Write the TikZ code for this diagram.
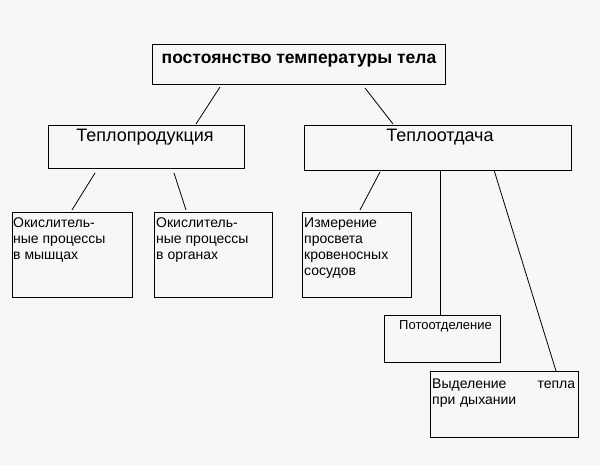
\documentclass[tikz,border=0pt]{standalone}
\usepackage{fontspec}
\setmainfont{Liberation Sans}
\begin{document}
\begin{tikzpicture}[x=1pt,y=-1pt,
  box/.style={draw,line width=0.9pt},
  ln/.style={line width=0.8pt},
  small/.style={anchor=north west,align=left,font=\fontsize{14}{16}\selectfont,inner sep=0pt}]
\useasboundingbox (0,0) rectangle (600,465);
\fill[gray!6] (0,0) rectangle (600,465);
\draw[box] (152,44) rectangle (445,84);
\node (top) at (299,61) {\fontsize{17.5}{19}\selectfont\bfseries постоянство температуры тела};
\draw[box] (48,125) rectangle (244,168);
\node (tp) at (145,137) {\fontsize{18}{20}\selectfont Теплопродукция};
\draw[box] (304,125) rectangle (571,170);
\node (to) at (440,137) {\fontsize{18}{20}\selectfont Теплоотдача};
\draw[box] (12,212) rectangle (132,297);
\node[small] (m) at (13,218) {Окислитель-\\ные процессы\\в мышцах};
\draw[box] (154,212) rectangle (272,297);
\node[small] (o) at (156,218) {Окислитель-\\ные процессы\\в органах};
\draw[box] (302,212) rectangle (411,297);
\node[small] (s) at (304,218) {Измерение\\просвета\\кровеносных\\сосудов};
\draw[box] (384,315) rectangle (500,362);
\node[small,font=\fontsize{13}{15}\selectfont] (p) at (399,320) {Потоотделение};
\draw[box] (430,371) rectangle (578,437);
\node[small,text width=143pt] (d) at (432,379) {Выделение\hfill тепла\\при дыхании};
\coordinate (a1) at (220,87); \coordinate (a2) at (196,124);
\coordinate (b1) at (365,88); \coordinate (b2) at (393,124);
\coordinate (c1) at (95,173); \coordinate (c2) at (72,210);
\coordinate (e1) at (174,173); \coordinate (e2) at (186,210);
\coordinate (f1) at (380,172); \coordinate (f2) at (360,210);
\coordinate (g1) at (440,170); \coordinate (g2) at (440,315);
\coordinate (h1) at (494,170); \coordinate (h2) at (556,371);
\draw[ln] (a1)--(a2); \draw[ln] (b1)--(b2);
\draw[ln] (c1)--(c2); \draw[ln] (e1)--(e2);
\draw[ln] (f1)--(f2); \draw[ln] (g1)--(g2); \draw[ln] (h1)--(h2);
\end{tikzpicture}
\end{document}
